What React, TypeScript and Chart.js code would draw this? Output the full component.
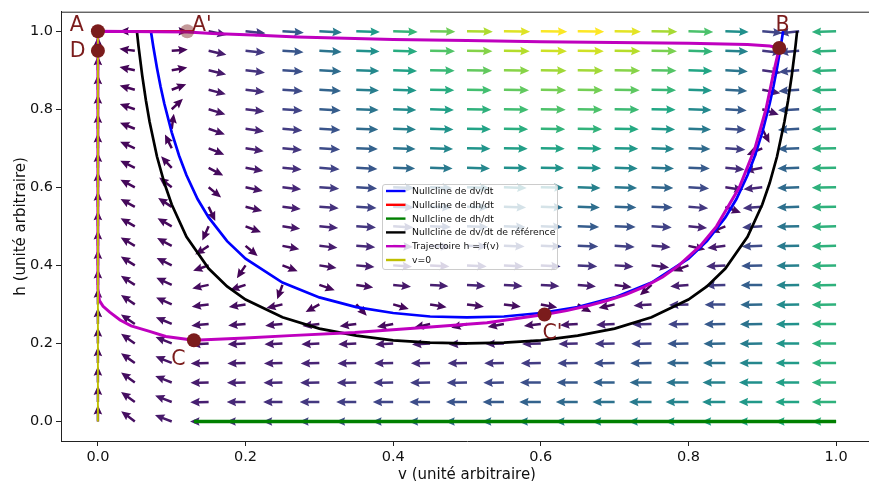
import React, { useEffect, useRef } from 'react';
import { Chart, registerables } from 'chart.js';

Chart.register(...registerables);

// ---------- data ----------
const X_TICKS = [0, 0.2, 0.4, 0.6, 0.8, 1.0];
const Y_TICKS = [0, 0.2, 0.4, 0.6, 0.8, 1.0];

const V_GRID = [0, 0.05, 0.1, 0.15, 0.2, 0.25, 0.3, 0.35, 0.4, 0.45, 0.5, 0.55, 0.6, 0.65, 0.7, 0.75, 0.8, 0.85, 0.9, 0.95, 1.0];
const H_GRID = [0, 0.05, 0.1, 0.15, 0.2, 0.25, 0.3, 0.35, 0.4, 0.45, 0.5, 0.55, 0.6, 0.65, 0.7, 0.75, 0.8, 0.85, 0.9, 0.95, 1.0];

// arrow direction (degrees, 0 = right, 90 = up), one row per h value
const ARROW_ANGLE = [
  [90, 143, 159, 180, 180, 180, 180, 180, 180, 180, 180, 180, 180, 180, 180, 180, 180, 180, 180, 180, 180],
  [90, 144, 159, -179, 180, 180, 180, 180, 180, 180, 180, 180, 180, 180, 180, 180, 180, 180, 180, 180, 180],
  [90, 144, 159, -179, -179, -179, -179, -179, -179, -179, -179, -179, 180, 180, 180, 180, 180, 180, 180, 180, 180],
  [90, 145, 158, -178, -178, -178, -178, -178, -179, -179, -179, -179, -179, -179, -179, -179, 180, 180, 180, 180, 180],
  [90, 145, 158, -176, -177, -177, -177, -177, -177, -177, -177, -178, -178, -178, -179, -179, -179, -179, -179, 180, 180],
  [90, 146, 157, -174, -175, -174, -173, -172, -169, -167, -166, -169, -173, -176, -177, -178, -179, -179, -179, -179, 180],
  [90, 146, 156, -172, -171, -167, -151, -47, -16, -10, -8, -8, -11, -30, -167, -176, -178, -179, -179, -179, -179],
  [90, 147, 155, -168, -162, -110, -19, -9, -6, -4, -4, -4, -4, -5, -8, -138, -175, -178, -179, -179, -179],
  [90, 148, 154, -161, -124, -21, -9, -5, -4, -3, -3, -3, -3, -3, -4, -7, -159, -177, -178, -179, -179],
  [90, 149, 152, -147, -40, -11, -6, -4, -3, -3, -2, -2, -2, -2, -3, -4, -12, -173, -178, -179, -179],
  [90, 150, 150, -114, -21, -8, -5, -3, -3, -2, -2, -2, -2, -2, -2, -3, -5, -158, -177, -179, -179],
  [90, 151, 147, -65, -14, -7, -4, -3, -2, -2, -2, -2, -2, -2, -2, -2, -4, -21, -176, -178, -179],
  [90, 152, 142, -39, -12, -6, -4, -3, -2, -2, -2, -2, -1, -2, -2, -2, -3, -8, -174, -178, -179],
  [90, 154, 133, -28, -10, -5, -4, -3, -2, -2, -2, -1, -1, -1, -2, -2, -2, -5, -170, -178, -179],
  [90, 156, 116, -22, -9, -5, -3, -2, -2, -2, -1, -1, -1, -1, -1, -2, -2, -4, -157, -178, -179],
  [90, 158, 82, -19, -8, -5, -3, -2, -2, -2, -1, -1, -1, -1, -1, -2, -2, -3, -63, -177, -179],
  [90, 161, 43, -17, -7, -4, -3, -2, -2, -2, -1, -1, -1, -1, -1, -1, -2, -3, -18, -177, -179],
  [90, 164, 21, -15, -7, -4, -3, -2, -2, -1, -1, -1, -1, -1, -1, -1, -2, -3, -11, -176, -179],
  [90, 168, 10, -14, -7, -4, -3, -2, -2, -1, -1, -1, -1, -1, -1, -1, -2, -3, -8, -175, -178],
  [90, 173, 4, -13, -6, -4, -3, -2, -2, -1, -1, -1, -1, -1, -1, -1, -2, -2, -6, -175, -178],
  [90, 180, 0, -12, -6, -4, -3, -2, -2, -1, -1, -1, -1, -1, -1, -1, -2, -2, -5, -174, -178],
];

// relative speed (colour level 0..1), one row per h value
const ARROW_LEVEL = [
  [0.024, 0.040, 0.068, 0.096, 0.128, 0.159, 0.191, 0.223, 0.255, 0.287, 0.319, 0.351, 0.383, 0.414, 0.446, 0.478, 0.510, 0.542, 0.574, 0.606, 0.638],
  [0.023, 0.038, 0.064, 0.087, 0.112, 0.137, 0.161, 0.185, 0.209, 0.234, 0.259, 0.286, 0.314, 0.344, 0.376, 0.411, 0.449, 0.490, 0.535, 0.584, 0.638],
  [0.022, 0.037, 0.059, 0.077, 0.097, 0.115, 0.131, 0.147, 0.163, 0.180, 0.199, 0.220, 0.245, 0.273, 0.306, 0.344, 0.388, 0.438, 0.496, 0.563, 0.638],
  [0.020, 0.035, 0.055, 0.068, 0.082, 0.092, 0.101, 0.109, 0.117, 0.127, 0.140, 0.155, 0.176, 0.202, 0.235, 0.276, 0.326, 0.387, 0.458, 0.541, 0.638],
  [0.019, 0.033, 0.050, 0.059, 0.066, 0.070, 0.071, 0.071, 0.072, 0.074, 0.080, 0.090, 0.107, 0.132, 0.165, 0.209, 0.265, 0.335, 0.419, 0.519, 0.638],
  [0.018, 0.032, 0.046, 0.050, 0.051, 0.048, 0.041, 0.033, 0.026, 0.021, 0.020, 0.026, 0.039, 0.061, 0.095, 0.142, 0.204, 0.283, 0.380, 0.498, 0.638],
  [0.017, 0.030, 0.041, 0.041, 0.036, 0.026, 0.012, 0.008, 0.021, 0.033, 0.040, 0.040, 0.031, 0.011, 0.025, 0.075, 0.143, 0.231, 0.341, 0.476, 0.638],
  [0.016, 0.029, 0.037, 0.032, 0.021, 0.007, 0.021, 0.044, 0.067, 0.086, 0.100, 0.105, 0.100, 0.081, 0.046, 0.010, 0.082, 0.179, 0.303, 0.455, 0.638],
  [0.014, 0.027, 0.033, 0.024, 0.009, 0.021, 0.050, 0.082, 0.112, 0.139, 0.160, 0.170, 0.168, 0.151, 0.116, 0.060, 0.022, 0.128, 0.264, 0.433, 0.638],
  [0.013, 0.025, 0.028, 0.016, 0.013, 0.043, 0.080, 0.120, 0.158, 0.193, 0.219, 0.235, 0.237, 0.222, 0.187, 0.127, 0.042, 0.076, 0.225, 0.412, 0.638],
  [0.012, 0.024, 0.024, 0.010, 0.027, 0.065, 0.110, 0.158, 0.204, 0.246, 0.279, 0.300, 0.306, 0.293, 0.257, 0.195, 0.102, 0.026, 0.187, 0.390, 0.638],
  [0.011, 0.022, 0.020, 0.012, 0.042, 0.088, 0.141, 0.196, 0.250, 0.299, 0.339, 0.366, 0.375, 0.364, 0.327, 0.262, 0.164, 0.030, 0.148, 0.368, 0.638],
  [0.010, 0.021, 0.015, 0.018, 0.057, 0.110, 0.171, 0.234, 0.296, 0.352, 0.399, 0.431, 0.444, 0.434, 0.397, 0.329, 0.225, 0.081, 0.110, 0.347, 0.638],
  [0.008, 0.019, 0.011, 0.026, 0.072, 0.133, 0.201, 0.272, 0.342, 0.406, 0.458, 0.496, 0.513, 0.505, 0.468, 0.396, 0.286, 0.132, 0.071, 0.325, 0.638],
  [0.007, 0.018, 0.008, 0.035, 0.088, 0.155, 0.231, 0.310, 0.388, 0.459, 0.518, 0.561, 0.582, 0.576, 0.538, 0.463, 0.347, 0.184, 0.034, 0.304, 0.638],
  [0.006, 0.016, 0.006, 0.044, 0.103, 0.177, 0.261, 0.348, 0.434, 0.512, 0.578, 0.626, 0.651, 0.646, 0.608, 0.531, 0.408, 0.236, 0.016, 0.283, 0.638],
  [0.005, 0.015, 0.007, 0.053, 0.118, 0.200, 0.291, 0.386, 0.480, 0.565, 0.638, 0.691, 0.719, 0.717, 0.679, 0.598, 0.470, 0.288, 0.048, 0.261, 0.638],
  [0.004, 0.013, 0.010, 0.062, 0.134, 0.222, 0.321, 0.424, 0.526, 0.619, 0.698, 0.756, 0.788, 0.788, 0.749, 0.665, 0.531, 0.339, 0.086, 0.239, 0.638],
  [0.002, 0.012, 0.014, 0.071, 0.149, 0.245, 0.351, 0.463, 0.572, 0.672, 0.757, 0.821, 0.857, 0.859, 0.819, 0.732, 0.592, 0.391, 0.125, 0.218, 0.638],
  [0.001, 0.010, 0.018, 0.080, 0.164, 0.267, 0.382, 0.501, 0.617, 0.725, 0.817, 0.886, 0.926, 0.929, 0.889, 0.800, 0.653, 0.443, 0.163, 0.197, 0.638],
  [0, 0.009, 0.022, 0.089, 0.180, 0.290, 0.412, 0.539, 0.663, 0.778, 0.877, 0.951, 0.995, 1.0, 0.960, 0.867, 0.714, 0.495, 0.202, 0.175, 0.638],
];

const BLUE_V = [0.0718, 0.075, 0.08, 0.085, 0.09, 0.1, 0.11, 0.12, 0.135, 0.15, 0.175, 0.2, 0.25, 0.3, 0.35, 0.4, 0.45, 0.5, 0.55, 0.6, 0.65, 0.7, 0.75, 0.8, 0.825, 0.85, 0.865, 0.88, 0.89, 0.9, 0.91, 0.915, 0.92, 0.925, 0.9282];
const BLUE_H = [1.0, 0.961, 0.906, 0.857, 0.814, 0.741, 0.681, 0.631, 0.57, 0.523, 0.462, 0.417, 0.356, 0.318, 0.293, 0.278, 0.269, 0.267, 0.269, 0.278, 0.293, 0.318, 0.356, 0.417, 0.462, 0.523, 0.57, 0.631, 0.681, 0.741, 0.814, 0.857, 0.906, 0.961, 1.0];

const RED_V = [0, 0.13];
const RED_H = [1, 1];

const GREEN_V = [0.13, 1.0];
const GREEN_H = [0, 0];

const BLACK_V = [0.0528, 0.055, 0.06, 0.065, 0.07, 0.08, 0.09, 0.1, 0.12, 0.15, 0.175, 0.2, 0.25, 0.3, 0.35, 0.4, 0.45, 0.5, 0.55, 0.6, 0.65, 0.7, 0.75, 0.8, 0.825, 0.85, 0.88, 0.9, 0.91, 0.92, 0.93, 0.935, 0.94, 0.945, 0.9472];
const BLACK_H = [1.0, 0.962, 0.887, 0.823, 0.768, 0.679, 0.611, 0.556, 0.473, 0.392, 0.346, 0.3125, 0.267, 0.238, 0.22, 0.208, 0.202, 0.2, 0.202, 0.208, 0.22, 0.238, 0.267, 0.3125, 0.346, 0.392, 0.473, 0.556, 0.611, 0.679, 0.768, 0.823, 0.887, 0.962, 1.0];

const TRAJ_V = [0, 0.121, 0.155, 0.21, 0.27, 0.4, 0.5, 0.6, 0.7, 0.8, 0.88, 0.91, 0.923, 0.916, 0.905, 0.89, 0.869, 0.838, 0.816, 0.787, 0.765, 0.74, 0.715, 0.69, 0.665, 0.635, 0.605, 0.527, 0.437, 0.348, 0.26, 0.2, 0.13, 0.092, 0.07, 0.045, 0.03, 0.016, 0.007, 0.002, 0, 0];
const TRAJ_H = [1, 0.998, 0.994, 0.99, 0.985, 0.979, 0.976, 0.973, 0.971, 0.969, 0.966, 0.962, 0.957, 0.9, 0.8, 0.7, 0.6, 0.5, 0.45, 0.4, 0.37, 0.345, 0.325, 0.31, 0.297, 0.284, 0.274, 0.253, 0.24, 0.228, 0.22, 0.214, 0.208, 0.218, 0.231, 0.245, 0.26, 0.28, 0.295, 0.31, 0.34, 1.0];

const YELLOW_V = [0, 0];
const YELLOW_H = [0, 1];

const POINT_V = [0, 0.121, 0, 0.923, 0.13, 0.605];
const POINT_H = [1, 1, 0.95, 0.957, 0.208, 0.274];
const POINT_ALPHA = [1, 0.45, 1, 1, 1, 1];

const LABEL_TEXT = ['A', "A'", 'D', 'B', 'C', "C'"];
const LABEL_V = [-0.038, 0.1276, -0.038, 0.918, 0.0992, 0.6022];
const LABEL_H = [1.0, 1.0, 0.933, 1.0, 0.146, 0.211];

const LEGEND_LABELS = [
  'Nullcline de dv/dt',
  'Nullcline de dh/dt',
  'Nullcline de dh/dt',
  'Nullcline de dv/dt de référence',
  'Trajectoire h = f(v)',
  'v=0',
];
const LEGEND_COLORS = ['#0000ff', '#ff0000', '#008000', '#000000', '#bf00bf', '#bfbf00'];

// ---------- styling helpers ----------
const FONT = "'DejaVu Sans', 'Liberation Sans', sans-serif";
const POINT_RGB = [123, 28, 28];
const VIRIDIS = ['#440154', '#482475', '#414487', '#355f8d', '#2a788e', '#21918c', '#22a884', '#44bf70', '#7ad151', '#bddf26', '#fde725'];

function hexToRgb(h: string) {
  return [parseInt(h.slice(1, 3), 16), parseInt(h.slice(3, 5), 16), parseInt(h.slice(5, 7), 16)];
}
function viridis(t: number) {
  const c = Math.max(0, Math.min(1, t));
  const p = c * 10;
  const i = Math.min(9, Math.floor(p));
  const f = p - i;
  const a = hexToRgb(VIRIDIS[i]);
  const b = hexToRgb(VIRIDIS[i + 1]);
  const r = Math.round(a[0] + (b[0] - a[0]) * f);
  const g = Math.round(a[1] + (b[1] - a[1]) * f);
  const bl = Math.round(a[2] + (b[2] - a[2]) * f);
  return `rgb(${r},${g},${bl})`;
}

const toXY = (vs: number[], hs: number[]) => vs.map((v, k) => ({ x: v, y: hs[k] }));

const quiverPlugin = {
  id: 'quiver',
  beforeDatasetsDraw(chart: any) {
    const { ctx, chartArea, scales } = chart;
    ctx.save();
    ctx.beginPath();
    ctx.rect(chartArea.left, chartArea.top, chartArea.right - chartArea.left, chartArea.bottom - chartArea.top);
    ctx.clip();
    const sw = 1.25, hw = 4.3, hl = 9.5, ha = 8.5;
    for (let j = 0; j < H_GRID.length; j++) {
      for (let i = 0; i < V_GRID.length; i++) {
        const c = ARROW_LEVEL[j][i];
        if (c <= 0) continue;
        const ang = (ARROW_ANGLE[j][i] * Math.PI) / 180;
        const x = scales.x.getPixelForValue(V_GRID[i]);
        const y = scales.y.getPixelForValue(H_GRID[j]);
        const L = 13.5 + 13 * Math.pow(c, 0.4);
        ctx.save();
        ctx.translate(x, y);
        ctx.rotate(-ang);
        ctx.beginPath();
        ctx.moveTo(0, -sw);
        ctx.lineTo(L - ha, -sw);
        ctx.lineTo(L - hl, -hw);
        ctx.lineTo(L, 0);
        ctx.lineTo(L - hl, hw);
        ctx.lineTo(L - ha, sw);
        ctx.lineTo(0, sw);
        ctx.closePath();
        ctx.fillStyle = viridis(c);
        ctx.fill();
        ctx.restore();
      }
    }
    ctx.restore();
  },
};

const decorPlugin = {
  id: 'decor',
  afterDraw(chart: any) {
    const { ctx, chartArea, scales } = chart;
    ctx.save();
    // top spine
    ctx.strokeStyle = '#222';
    ctx.lineWidth = 1;
    ctx.beginPath();
    ctx.moveTo(chartArea.left, chartArea.top + 0.5);
    ctx.lineTo(chartArea.right, chartArea.top + 0.5);
    ctx.stroke();

    // point labels
    ctx.fillStyle = `rgb(${POINT_RGB.join(',')})`;
    ctx.font = `20.5px ${FONT}`;
    ctx.textAlign = 'left';
    ctx.textBaseline = 'alphabetic';
    LABEL_TEXT.forEach((t, k) => {
      ctx.fillText(t, scales.x.getPixelForValue(LABEL_V[k]), scales.y.getPixelForValue(LABEL_H[k]));
    });

    // axis titles
    ctx.fillStyle = '#111';
    ctx.font = `15px ${FONT}`;
    ctx.textAlign = 'center';
    ctx.fillText('v (unité arbitraire)', (chartArea.left + chartArea.right) / 2, 479);
    ctx.save();
    ctx.translate(24.5, (chartArea.top + chartArea.bottom) / 2);
    ctx.rotate(-Math.PI / 2);
    ctx.fillText('h (unité arbitraire)', 0, 0);
    ctx.restore();

    // legend
    const bx = 382.5, by = 184.5, bw = 175, bh = 85, r = 2.5;
    ctx.beginPath();
    ctx.moveTo(bx + r, by);
    ctx.lineTo(bx + bw - r, by);
    ctx.arcTo(bx + bw, by, bx + bw, by + r, r);
    ctx.lineTo(bx + bw, by + bh - r);
    ctx.arcTo(bx + bw, by + bh, bx + bw - r, by + bh, r);
    ctx.lineTo(bx + r, by + bh);
    ctx.arcTo(bx, by + bh, bx, by + bh - r, r);
    ctx.lineTo(bx, by + r);
    ctx.arcTo(bx, by, bx + r, by, r);
    ctx.closePath();
    ctx.fillStyle = 'rgba(255,255,255,0.8)';
    ctx.fill();
    ctx.strokeStyle = '#cccccc';
    ctx.lineWidth = 1;
    ctx.stroke();
    ctx.font = `9.3px ${FONT}`;
    ctx.textAlign = 'left';
    ctx.textBaseline = 'middle';
    LEGEND_LABELS.forEach((lab, k) => {
      const yy = 191 + k * 13.8;
      ctx.strokeStyle = LEGEND_COLORS[k];
      ctx.lineWidth = 2.4;
      ctx.beginPath();
      ctx.moveTo(386, yy);
      ctx.lineTo(405.5, yy);
      ctx.stroke();
      ctx.fillStyle = '#111';
      ctx.fillText(lab, 412, yy + 0.5);
    });
    ctx.restore();
  },
};

export default function App() {
  const ref = useRef<HTMLCanvasElement | null>(null);

  useEffect(() => {
    if (!ref.current) return;
    const lineDs = (vs: number[], hs: number[], color: string, width: number, order: number) => ({
      data: toXY(vs, hs),
      showLine: true,
      borderColor: color,
      backgroundColor: color,
      borderWidth: width,
      pointRadius: 0,
      pointHoverRadius: 0,
      tension: 0,
      fill: false,
      order,
    });
    const pointColors = POINT_ALPHA.map((a) => `rgba(${POINT_RGB.join(',')},${a})`);
    const chart = new Chart(ref.current, {
      type: 'scatter',
      data: {
        datasets: [
          {
            data: toXY(POINT_V, POINT_H),
            showLine: false,
            pointRadius: 7,
            pointHoverRadius: 7,
            pointBackgroundColor: pointColors,
            pointBorderWidth: 0,
            pointBorderColor: pointColors,
            order: 0,
          } as any,
          lineDs(YELLOW_V, YELLOW_H, '#bfbf00', 1.9, 1),
          lineDs(TRAJ_V, TRAJ_H, '#bf00bf', 3, 2),
          lineDs(BLACK_V, BLACK_H, '#000000', 2.7, 3),
          lineDs(GREEN_V, GREEN_H, '#008000', 3.3, 4),
          lineDs(RED_V, RED_H, '#ff0000', 2.4, 5),
          lineDs(BLUE_V, BLUE_H, '#0000ff', 2.7, 6),
        ],
      },
      options: {
        responsive: false,
        animation: false,
        events: [],
        layout: { padding: { left: 0, top: 11, right: 1, bottom: 0 } },
        plugins: { legend: { display: false }, tooltip: { enabled: false } },
        scales: {
          x: {
            type: 'linear',
            min: -0.05,
            max: 1.05,
            afterFit: (s: any) => { s.height = 40; },
            afterBuildTicks: (s: any) => { s.ticks = X_TICKS.map((v) => ({ value: v })); },
            ticks: {
              callback: (v: any) => Number(v).toFixed(1),
              font: { family: FONT, size: 14.5 },
              color: '#111',
              padding: 3,
              autoSkip: false,
              maxRotation: 0,
            },
            grid: { drawOnChartArea: false, drawTicks: true, tickLength: 5, tickColor: '#222', lineWidth: 1 },
            border: { display: true, color: '#222', width: 1 },
          },
          y: {
            type: 'linear',
            min: -0.05,
            max: 1.05,
            afterFit: (s: any) => { s.width = 61; },
            afterBuildTicks: (s: any) => { s.ticks = Y_TICKS.map((v) => ({ value: v })); },
            ticks: {
              callback: (v: any) => Number(v).toFixed(1),
              font: { family: FONT, size: 14.5 },
              color: '#111',
              padding: 3,
              autoSkip: false,
            },
            grid: { drawOnChartArea: false, drawTicks: true, tickLength: 5, tickColor: '#222', lineWidth: 1 },
            border: { display: true, color: '#222', width: 1 },
          },
        },
      } as any,
      plugins: [quiverPlugin, decorPlugin],
    });
    return () => chart.destroy();
  }, []);

  return (
    <div style={{ position: 'fixed', left: 0, top: 0, width: 869, height: 481, overflow: 'hidden', background: '#fff' }}>
      <canvas ref={ref} width={880} height={481} style={{ display: 'block', width: 880, height: 481 }} />
    </div>
  );
}
